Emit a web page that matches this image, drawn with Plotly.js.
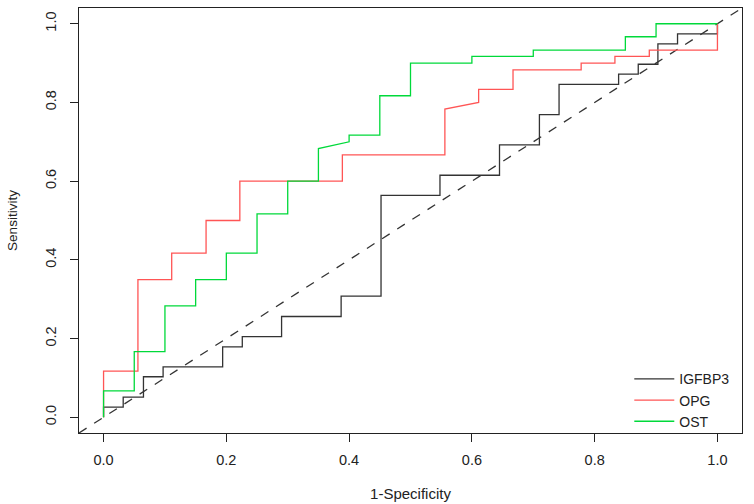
<!DOCTYPE html>
<html>
<head>
<meta charset="utf-8">
<script src="https://cdn.plot.ly/plotly-3.0.1.min.js"></script>
<style>
  html, body { margin: 0; padding: 0; background: #fff; }
  #roc { width: 754px; height: 504px; }
</style>
</head>
<body>
<div id="roc"></div>
<script>
// ROC points (1-specificity, sensitivity)
const igfbp3X = [0, 0, 0.032, 0.032, 0.065, 0.065, 0.097, 0.097, 0.194, 0.194, 0.226, 0.226,
  0.290, 0.290, 0.387, 0.387, 0.452, 0.452, 0.548, 0.548, 0.645, 0.645, 0.710, 0.710,
  0.742, 0.742, 0.839, 0.839, 0.871, 0.871, 0.903, 0.903, 0.935, 0.935, 1, 1];
const igfbp3Y = [0, 0.026, 0.026, 0.051, 0.051, 0.103, 0.103, 0.128, 0.128, 0.179, 0.179, 0.205,
  0.205, 0.256, 0.256, 0.308, 0.308, 0.564, 0.564, 0.615, 0.615, 0.692, 0.692, 0.769,
  0.769, 0.846, 0.846, 0.872, 0.872, 0.897, 0.897, 0.949, 0.949, 0.974, 0.974, 1];

const opgX = [0, 0, 0.056, 0.056, 0.111, 0.111, 0.167, 0.167, 0.222, 0.222, 0.389, 0.389,
  0.556, 0.556, 0.611, 0.611, 0.667, 0.667, 0.778, 0.778, 0.833, 0.833, 0.889, 0.889, 1, 1];
const opgY = [0, 0.117, 0.117, 0.350, 0.350, 0.417, 0.417, 0.500, 0.500, 0.600, 0.600, 0.667,
  0.667, 0.783, 0.800, 0.833, 0.833, 0.883, 0.883, 0.900, 0.900, 0.917, 0.917, 0.933, 0.933, 1];

const ostX = [0, 0, 0.05, 0.05, 0.10, 0.10, 0.15, 0.15, 0.20, 0.20, 0.25, 0.25, 0.30, 0.30,
  0.35, 0.35, 0.40, 0.40, 0.45, 0.45, 0.50, 0.50, 0.60, 0.60, 0.70, 0.70, 0.85, 0.85, 0.90, 0.90, 1];
const ostY = [0, 0.067, 0.067, 0.167, 0.167, 0.283, 0.283, 0.350, 0.350, 0.417, 0.417, 0.517,
  0.517, 0.600, 0.600, 0.683, 0.700, 0.717, 0.717, 0.817, 0.817, 0.900, 0.900, 0.917, 0.917,
  0.933, 0.933, 0.967, 0.967, 1, 1];

const seriesNames = ["IGFBP3", "OPG", "OST"];
const axisRange = [-0.04, 1.04];   // R's 4% padding around [0, 1]

const INK = "#222222";
const FONT = "Liberation Sans, Arial, Helvetica, sans-serif";
const COLORS = ["#333333", "#ff5555", "#00d93a"];

const data = [
  // chance diagonal (abline 0,1) spans the whole plot region
  { x: axisRange, y: axisRange, mode: "lines", showlegend: false, hoverinfo: "skip",
    line: { color: "#333333", width: 1.3, dash: "dash" } },
  { x: igfbp3X, y: igfbp3Y, mode: "lines", name: seriesNames[0],
    line: { color: COLORS[0], width: 1.3 } },
  { x: opgX, y: opgY, mode: "lines", name: seriesNames[1],
    line: { color: COLORS[1], width: 1.3 } },
  { x: ostX, y: ostY, mode: "lines", name: seriesNames[2],
    line: { color: COLORS[2], width: 1.3 } },
];

const AXIS = {
  range: axisRange, tick0: 0, dtick: 0.2, tickformat: ".1f",
  showgrid: false, zeroline: false,
  showline: true, mirror: true, linecolor: INK, linewidth: 1.3,
  ticks: "outside", ticklen: 8, tickwidth: 1, tickcolor: INK,
  tickfont: { family: FONT, size: 14.5, color: INK },
  automargin: false,
};

const layout = {
  width: 754, height: 504,
  paper_bgcolor: "#fff", plot_bgcolor: "#fff",
  font: { family: FONT, size: 13, color: INK },
  margin: { l: 79, r: 12, t: 8, b: 71 },
  xaxis: Object.assign({}, AXIS, {
    ticklabelstandoff: 5,
    title: { text: "1-Specificity", standoff: 21, font: { family: FONT, size: 15, color: INK } },
  }),
  yaxis: Object.assign({}, AXIS, {
    tickangle: -90, ticklabelstandoff: 8,
    title: { text: "Sensitivity", standoff: 22, font: { family: FONT, size: 13.5, color: INK } },
  }),
  legend: {
    x: 0.83, y: -0.01, xanchor: "left", yanchor: "bottom",
    bgcolor: "rgba(0,0,0,0)", borderwidth: 0,
    font: { family: FONT, size: 14, color: INK },
    itemwidth: 40,
  },
};

Plotly.newPlot("roc", data, layout, { displayModeBar: false, staticPlot: true });
</script>
</body>
</html>
